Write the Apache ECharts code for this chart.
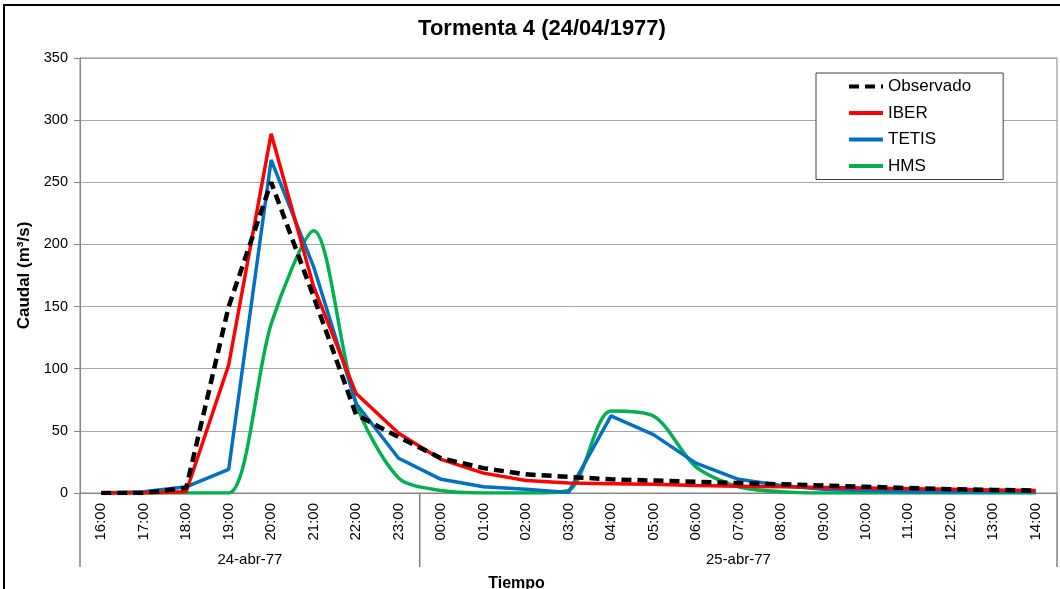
<!DOCTYPE html>
<html>
<head>
<meta charset="utf-8">
<script src="https://cdn.jsdelivr.net/npm/echarts@6/dist/echarts.min.js"></script>
<style>
html,body{margin:0;padding:0;background:#fff;}
#chart{width:1060px;height:589px;}
</style>
</head>
<body>
<div id="chart"></div>
<script>
// ---- data ----
const categories = ['16:00','17:00','18:00','19:00','20:00','21:00','22:00','23:00',
  '00:00','01:00','02:00','03:00','04:00','05:00','06:00','07:00','08:00','09:00',
  '10:00','11:00','12:00','13:00','14:00'];
const dayLabels = ['24-abr-77','25-abr-77'];
const dayCounts = [8, 15];
const observado = [0,0,4,150,250,158,63,45,28,20,15,13,11,10,9,8,7,6,5,4,3,2.5,2];
const iber      = [0,0,1,103,289,166,80,48,27,16,10,8,7.5,7,6,5.5,5,4.5,4,3.5,3,2.5,2];
const tetis     = [0,1,5,19,268,182,72,28,11,5,3,0.5,62,47,24,11,6,3,2,1,1,1,1];
const hms       = [0,0,0,0,136,211,72,12,2,0,0,2,66,62,21,5,1,0,0,0,0,0,0];
const yTicks = {min:0, max:350, interval:50};

const FONT = 'Liberation Sans, Arial, sans-serif';
const chart = echarts.init(document.getElementById('chart'));
const option = {
  animation:false,
  backgroundColor:'#fff',
  title:{
    text:'Tormenta 4 (24/04/1977)',
    left:537, top:13, textAlign:'center',
    textStyle:{fontFamily:FONT,fontWeight:'bold',fontSize:22,color:'#000'}
  },
  legend:{
    orient:'vertical', left:816, top:73,
    padding:[5,32,5,31],
    backgroundColor:'#fff', borderColor:'#404040', borderWidth:1,
    itemWidth:34, itemHeight:14, itemGap:9.5,
    itemStyle:{opacity:0},
    lineStyle:{width:4},
    textStyle:{fontFamily:FONT,fontSize:17,color:'#000',lineHeight:17},
    data:['Observado','IBER','TETIS','HMS']
  },
  grid:{left:80,right:3,top:58,bottom:96,show:true,borderColor:'#868686',borderWidth:1,containLabel:false},
  xAxis:{
    type:'category', data:categories, boundaryGap:true,
    axisLine:{lineStyle:{color:'#868686',width:1}},
    axisTick:{show:false},
    axisLabel:{rotate:90,margin:10,fontFamily:FONT,fontSize:15,color:'#000',interval:0},
    splitLine:{show:false}
  },
  yAxis:{
    type:'value', min:yTicks.min, max:yTicks.max, interval:yTicks.interval,
    name:'Caudal (m³/s)', nameLocation:'middle', nameGap:46,
    nameTextStyle:{fontFamily:FONT,fontWeight:'bold',fontSize:17,color:'#000'},
    axisLine:{show:true,lineStyle:{color:'#868686'}},
    axisTick:{show:true,length:6,lineStyle:{color:'#868686'}},
    axisLabel:{margin:12,fontFamily:FONT,fontSize:14.5,color:'#000'},
    splitLine:{lineStyle:{color:'#a6a6a6',width:1}}
  },
  series:[
    {name:'Observado',type:'line',data:observado,symbol:'none',z:5,
     lineStyle:{color:'#000',width:4.5,type:[10,6],cap:'butt'},itemStyle:{color:'#000'}},
    {name:'IBER',type:'line',data:iber,symbol:'none',z:4,
     lineStyle:{color:'#ff0000',width:3.5},itemStyle:{color:'#ff0000'}},
    {name:'TETIS',type:'line',data:tetis,symbol:'none',z:3,
     lineStyle:{color:'#0070c0',width:3.5},itemStyle:{color:'#0070c0'}},
    {name:'HMS',type:'line',data:hms,symbol:'none',smooth:0.28,z:2,
     lineStyle:{color:'#00b050',width:3.5},itemStyle:{color:'#00b050'}}
  ]
};
chart.setOption(option);

// multi-level category annotations, computed from the axis scale
const px = i => chart.convertToPixel({xAxisIndex:0}, categories[i]);
const yBase = chart.convertToPixel({yAxisIndex:0}, 0);
const step = px(1) - px(0);
const bounds = [px(0) - step/2];
let acc = 0;
dayCounts.forEach(c => { acc += c; bounds.push(px(acc-1) + step/2); });
const graphics = [];
bounds.forEach(b => {
  graphics.push({type:'line',shape:{x1:b,y1:yBase,x2:b,y2:yBase+74},style:{stroke:'#404040',lineWidth:1},silent:true});
});
dayLabels.forEach((t,k) => {
  graphics.push({type:'text',x:(bounds[k]+bounds[k+1])/2,y:yBase+67,
    style:{text:t,fill:'#000',font:'15px '+FONT,align:'center',verticalAlign:'middle'},silent:true});
});
graphics.push({type:'text',x:(bounds[0]+bounds[bounds.length-1])/2 - 52,y:yBase+91,
  style:{text:'Tiempo',fill:'#000',font:'bold 16px '+FONT,align:'center',verticalAlign:'middle'},silent:true});
graphics.push({type:'rect',shape:{x:4,y:5,width:1070,height:600},
  style:{fill:'none',stroke:'#000',lineWidth:2},silent:true,z:100});
chart.setOption({graphic:graphics});
</script>
</body>
</html>
